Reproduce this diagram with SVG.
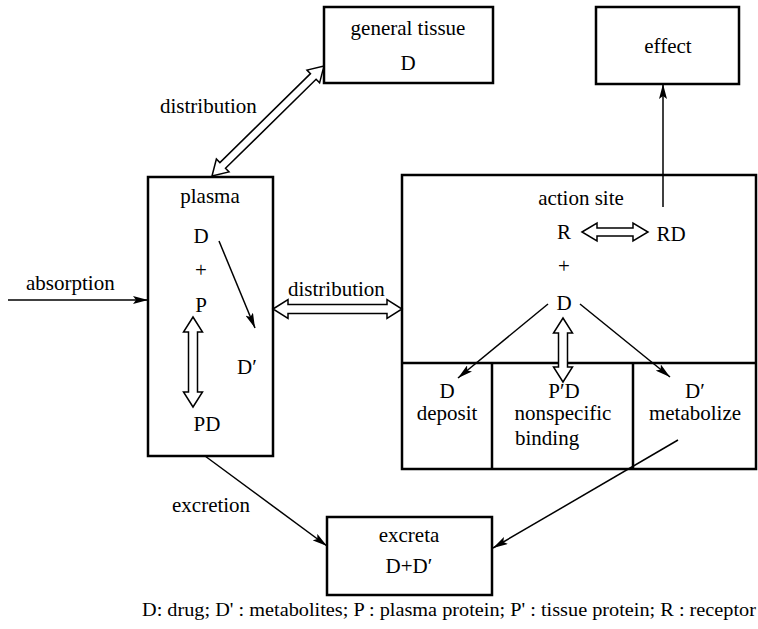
<svg xmlns="http://www.w3.org/2000/svg" width="758" height="629" viewBox="0 0 758 629" font-family="'Liberation Serif', 'Times New Roman', Times, serif">
<style>
text{font-size:21px;fill:#000}
.c{text-anchor:middle}
.box{fill:#fff;stroke:#000;stroke-width:2.5}
.ln{fill:none;stroke:#000;stroke-width:1.5}
.ha{fill:#fff;stroke:#000;stroke-width:1.5;stroke-linejoin:miter}
</style>
<defs>
<marker id="ah" markerUnits="userSpaceOnUse" markerWidth="15" markerHeight="8" refX="15" refY="4" orient="auto">
<path d="M0,0 L15,4 L0,8 L3,4 z" fill="#000"/>
</marker>
</defs>
<rect width="758" height="629" fill="#fff"/>
<g id="general-tissue">
<rect class="box" x="324" y="7" width="169" height="76"/>
<text class="c" x="408" y="35">general tissue</text>
<text class="c" x="408" y="70">D</text>
</g>
<g id="effect">
<rect class="box" x="596" y="7" width="143" height="77"/>
<text class="c" x="668" y="53">effect</text>
</g>
<g id="plasma">
<rect class="box" x="148" y="177" width="125" height="279"/>
<text class="c" x="210" y="203">plasma</text>
<text class="c" x="201" y="243">D</text>
<text class="c" x="201" y="277">+</text>
<text class="c" x="201" y="312">P</text>
<text class="c" x="247" y="374">D′</text>
<text class="c" x="207" y="431">PD</text>
</g>
<g id="action-site">
<rect class="box" x="402" y="175" width="354" height="294"/>
<line class="box" x1="402" y1="363" x2="756" y2="363"/>
<line class="box" x1="492" y1="363" x2="492" y2="469"/>
<line class="box" x1="633" y1="363" x2="633" y2="469"/>
<text class="c" x="581" y="205">action site</text>
<text class="c" x="564" y="239">R</text>
<text class="c" x="671" y="241">RD</text>
<text class="c" x="564" y="273">+</text>
<text class="c" x="564" y="310">D</text>
<text class="c" x="447" y="398">D</text>
<text class="c" x="447" y="420">deposit</text>
<text class="c" x="564" y="398">P′D</text>
<text class="c" x="563" y="420">nonspecific</text>
<text x="515" y="445">binding</text>
<text class="c" x="695" y="398">D′</text>
<text class="c" x="695" y="420">metabolize</text>
</g>
<g id="excreta">
<rect class="box" x="327" y="517" width="165" height="78"/>
<text class="c" x="409" y="542">excreta</text>
<text class="c" x="409" y="573">D+D′</text>
</g>
<g id="connectors">
<line class="ln" x1="8" y1="300" x2="148" y2="300" marker-end="url(#ah)"/>
<line class="ln" x1="219" y1="241" x2="255" y2="328" marker-end="url(#ah)"/>
<line class="ln" x1="663" y1="207" x2="663" y2="84" marker-end="url(#ah)"/>
<line class="ln" x1="548" y1="304" x2="458" y2="378" marker-end="url(#ah)"/>
<line class="ln" x1="580" y1="304" x2="670" y2="377" marker-end="url(#ah)"/>
<line class="ln" x1="205" y1="456" x2="327" y2="546" marker-end="url(#ah)"/>
<line class="ln" x1="678" y1="440" x2="493" y2="548" marker-end="url(#ah)"/>
<polygon class="ha" transform="translate(273,309)" points="0,0 15,-9.5 15,-4.5 114,-4.5 114,-9.5 129,0 114,9.5 114,4.5 15,4.5 15,9.5"/>
<polygon class="ha" transform="translate(582,232)" points="0,0 15,-9 15,-4 51,-4 51,-9 66,0 51,9 51,4 15,4 15,9"/>
<polygon class="ha" transform="translate(193,317) rotate(90)" points="0,0 15,-9.5 15,-4.5 75,-4.5 75,-9.5 90,0 75,9.5 75,4.5 15,4.5 15,9.5"/>
<polygon class="ha" transform="translate(563,318) rotate(90)" points="0,0 15,-9.5 15,-4.5 49,-4.5 49,-9.5 64,0 49,9.5 49,4.5 15,4.5 15,9.5"/>
<polygon class="ha" transform="translate(212,176) rotate(-44.5)" points="0,0 15,-9 15,-4 142,-4 142,-9 157,0 142,9 142,4 15,4 15,9"/>
<text x="160" y="113">distribution</text>
<text x="26" y="290">absorption</text>
<text x="288" y="296">distribution</text>
<text x="172" y="512">excretion</text>
</g>
<text x="142" y="616" style="font-size:19px" textLength="614" lengthAdjust="spacingAndGlyphs">D: drug; D' : metabolites; P : plasma protein; P' : tissue protein; R : receptor</text>
</svg>
